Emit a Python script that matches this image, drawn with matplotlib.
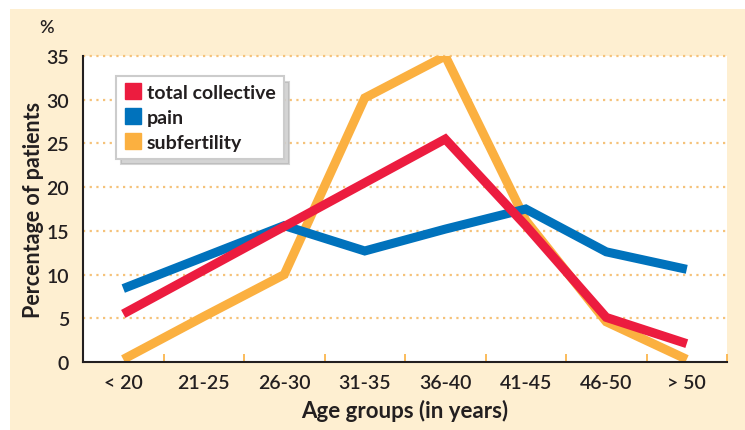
import matplotlib.pyplot as plt
from matplotlib.patches import Rectangle
from matplotlib.lines import Line2D

age_groups = ["< 20", "21-25", "26-30", "31-35", "36-40", "41-45", "46-50", "> 50"]
total_collective = [5.5, 10.5, 15.5, 20.5, 25.5, 15.6, 5.1, 2.1]
pain = [8.4, 12.0, 15.6, 12.7, 15.2, 17.5, 12.6, 10.6]
subfertility = [0.3, 5.2, 10.0, 30.2, 35.0, 16.2, 4.6, 0.3]
y_ticks = [0, 5, 10, 15, 20, 25, 30, 35]

RED = "#EC1C3F"
BLUE = "#0072BC"
ORANGE = "#FBB040"
BEIGE = "#FEEFD1"
TEXT = "#231F20"

plt.rcParams['font.family'] = ['Lato', 'DejaVu Sans']
plt.rcParams['font.weight'] = 'semibold'

fig = plt.figure(figsize=(7.45, 4.31), dpi=100)
fig.patch.set_facecolor("white")
# beige panel behind the chart
fig.patches.append(Rectangle((10 / 745, 0), 1, 1 - 10 / 431, transform=fig.transFigure,
                             facecolor=BEIGE, edgecolor="none", zorder=-5))

ax = fig.add_axes([83 / 745, 1 - 363 / 431, 644 / 745, 306 / 431])
ax.set_facecolor("white")

x = list(range(len(age_groups)))
lw = 6.5
ax.plot(x, subfertility, color=ORANGE, lw=lw, solid_capstyle="butt", solid_joinstyle="miter", zorder=3)
ax.plot(x, pain, color=BLUE, lw=lw, solid_capstyle="butt", solid_joinstyle="miter", zorder=4)
ax.plot(x, total_collective, color=RED, lw=lw, solid_capstyle="butt", solid_joinstyle="miter", zorder=5)

ax.set_xlim(-0.5, 7.5)
ax.set_ylim(0, 35)
ax.set_yticks(y_ticks)
ax.set_yticklabels([str(v) for v in y_ticks], fontsize=14, color=TEXT)
ax.tick_params(axis="y", length=0, pad=10)

ax.set_xticks(x)
ax.set_xticklabels(age_groups, fontsize=14, color=TEXT)
ax.tick_params(axis="x", which="major", length=0, pad=9)
ax.set_xticks([i + 0.5 for i in x], minor=True)
ax.tick_params(axis="x", which="minor", direction="in", length=6, width=1.2, color=ORANGE)

for v in y_ticks[1:]:
    ax.axhline(v, color="#F5C27A", lw=1.6, ls=(0, (1, 2)), zorder=1, clip_on=False)

for s in ["top", "right"]:
    ax.spines[s].set_visible(False)
for s in ["left", "bottom"]:
    ax.spines[s].set_color(TEXT)
    ax.spines[s].set_linewidth(1.5)
    ax.spines[s].set_zorder(6)

ax.set_xlabel("Age groups (in years)", fontsize=16, fontweight="bold", color=TEXT, labelpad=5)
ax.set_ylabel("Percentage of patients", fontsize=15.5, fontweight="bold", color=TEXT, labelpad=2)
ax.text(-0.057, 1.095, "%", transform=ax.transAxes, fontsize=13, color=TEXT, ha="center", va="center")

handles = [Line2D([], [], marker="s", ls="none", markersize=12, color=c)
           for c in (RED, BLUE, ORANGE)]
leg = ax.legend(handles, ["total collective", "pain", "subfertility"],
                loc="upper left", bbox_to_anchor=(0.036, 0.965),
                prop={"weight": "bold", "size": 14},
                frameon=True, fancybox=False,
                shadow={"color": "#aaaaaa", "alpha": 0.5, "ox": 4, "oy": -4},
                handletextpad=0.2, handlelength=1.0, labelspacing=0.4, borderpad=0.4)
leg.get_frame().set_edgecolor("#CCCCCC")
leg.get_frame().set_linewidth(1.5)
leg.set_zorder(10)
for t in leg.get_texts():
    t.set_color(TEXT)

fig.savefig("out.png", dpi=100, facecolor=fig.get_facecolor())
